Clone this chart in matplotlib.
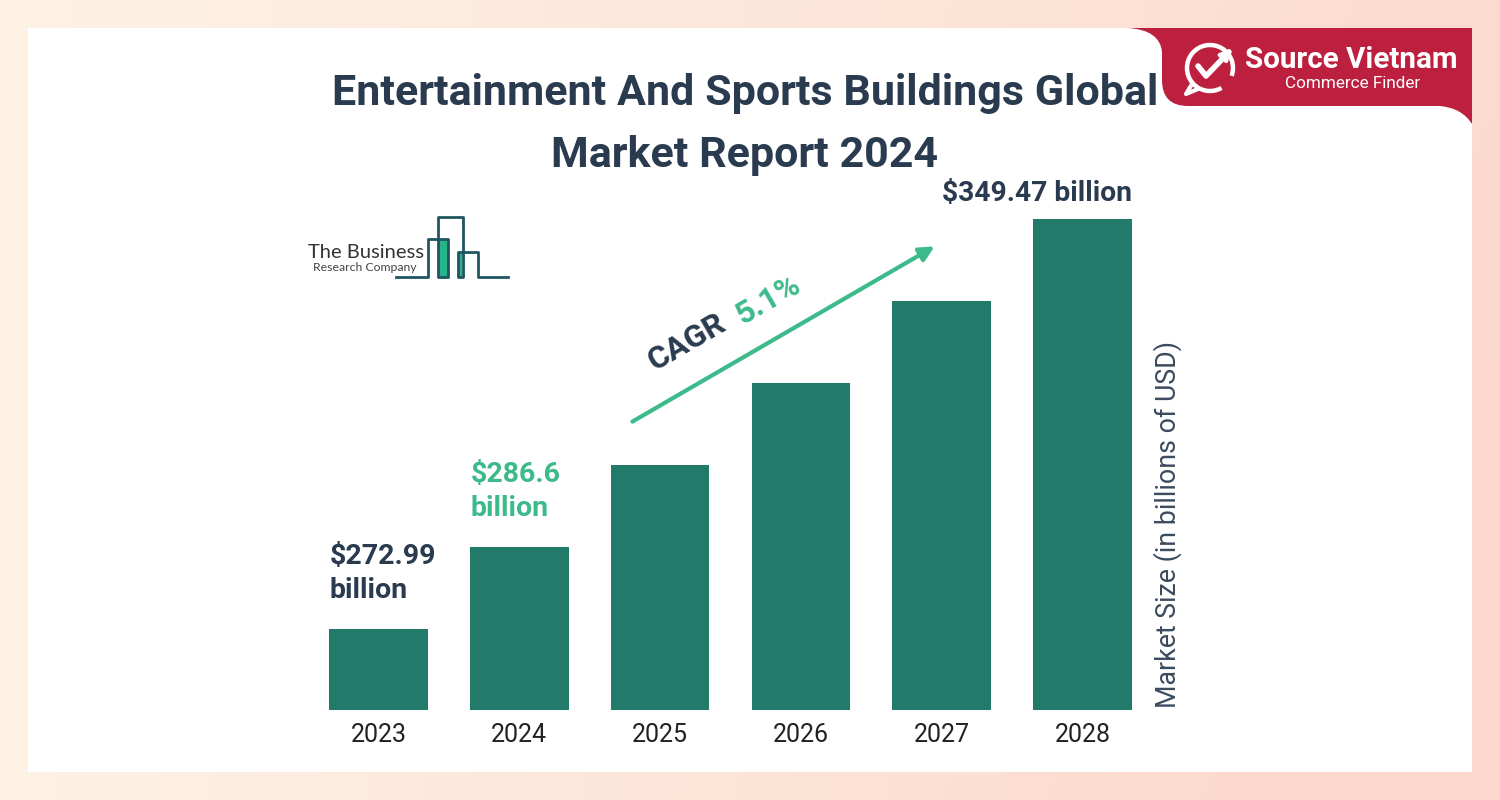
import numpy as np
import matplotlib
matplotlib.use("Agg")
import matplotlib.pyplot as plt
from matplotlib.patches import Rectangle, PathPatch, Arc, FancyArrowPatch
from matplotlib.path import Path

plt.rcParams["font.family"] = ["Roboto", "DejaVu Sans"]

# ---- data (bar heights as drawn in the infographic, label text) -------------
years = ["2023", "2024", "2025", "2026", "2027", "2028"]
bar_heights = [81, 163, 245, 327, 409, 491]
value_labels = {"2023": "$272.99\nbillion", "2024": "$286.6\nbillion",
                "2028": "$349.47 billion"}
cagr_text = "5.1%"

title_lines = ["Entertainment And Sports Buildings Global", "Market Report 2024"]
ylabel = "Market Size (in billions of USD)"

NAVY = "#2a3b4f"
BAR = "#227a6b"
GREEN = "#3dba8b"
RED = "#bd1f3e"

W, H = 1500, 800
fig = plt.figure(figsize=(15, 8), dpi=100)

# ---- background gradient + white card ----------------------------------------
bg = fig.add_axes([0, 0, 1, 1])
bg.set_xlim(0, W)
bg.set_ylim(H, 0)
bg.axis("off")
c_left = np.array([254, 242, 229]) / 255
c_right = np.array([251, 216, 203]) / 255
t = np.linspace(0, 1, 300)[None, :, None]
tv = np.linspace(0, 1, 160)[:, None, None]
mix = np.clip(t * 0.85 + tv * 0.25 * t, 0, 1)
grad = c_left * (1 - mix) + c_right * mix
bg.imshow(grad, extent=[0, W, H, 0], aspect="auto", zorder=0)
bg.add_patch(Rectangle((28, 28), 1444, 744, facecolor="white",
                       edgecolor="none", zorder=1))

# red badge top-right
verts = [(1128, 28), (1472, 28), (1472, 124),
         (1462, 108), (1440, 106),
         (1188, 106),
         (1162, 106), (1162, 80),
         (1162, 52),
         (1160, 30), (1128, 28), (1128, 28)]
codes = [Path.MOVETO, Path.LINETO, Path.LINETO,
         Path.CURVE3, Path.CURVE3,
         Path.LINETO,
         Path.CURVE3, Path.CURVE3,
         Path.LINETO,
         Path.CURVE3, Path.CURVE3, Path.CLOSEPOLY]
bg.add_patch(PathPatch(Path(verts, codes), facecolor=RED, edgecolor="none",
                       zorder=2))
# badge icon: ring + check + arrow
bg.add_patch(Arc((1210, 68), 46, 46, theta1=60, theta2=380, color="white",
                 lw=3.2, zorder=3))
bg.plot([1198, 1206, 1229], [66, 76, 52], color="white", lw=4,
        solid_capstyle="round", solid_joinstyle="round", zorder=4)
bg.add_patch(FancyArrowPatch((1222, 59), (1234, 46), arrowstyle="-|>",
                             mutation_scale=16, color="white", lw=3, zorder=4))
bg.plot([1192, 1186, 1198], [84, 94, 89], color="white", lw=3, zorder=4)
bg.text(1351, 60, "Source Vietnam", color="white", fontsize=21.3,
        fontweight="bold", ha="center", va="center", zorder=4)
bg.text(1353, 83, "Commerce Finder", color="white", fontsize=12.3,
        ha="center", va="center", zorder=4)

# title
bg.text(745, 105, title_lines[0], color=NAVY, fontsize=31,
        fontweight="bold", ha="center", va="baseline", zorder=3)
bg.text(745, 167, title_lines[1], color=NAVY, fontsize=31,
        fontweight="bold", ha="center", va="baseline", zorder=3)

# company logo
LOGO_DK = "#1f5660"
LOGO_GR = "#27b48a"
bg.add_patch(Rectangle((439, 240), 9, 37, facecolor=LOGO_GR, edgecolor="none",
                       zorder=3))
bg.add_patch(Rectangle((458, 252), 4, 25, facecolor=LOGO_GR, edgecolor="none",
                       zorder=3))
bg.plot([396, 428, 428, 448, 448, 438, 438, 463, 463, 458, 458, 478, 478, 508],
        [277, 277, 239, 239, 277, 277, 217, 217, 277, 277, 252, 252, 277, 277],
        color=LOGO_DK, lw=2, zorder=4)
bg.text(308, 258, "The Business", color="#333333", fontsize=14.5,
        family=["Lato", "DejaVu Sans"], va="baseline", zorder=3)
bg.text(313, 271, "Research Company", color="#444444", fontsize=8.8,
        family=["Lato", "DejaVu Sans"], va="baseline", zorder=3)

# CAGR arrow + text
bg.add_patch(FancyArrowPatch((630, 423), (937, 245), arrowstyle="-|>",
                             mutation_scale=22, color=GREEN, lw=3, zorder=3))
bg.text(687, 342, "CAGR", color=NAVY, fontsize=23, fontweight="bold",
        rotation=30, ha="center", va="center", rotation_mode="anchor",
        zorder=3)
bg.text(768, 300, cagr_text, color=GREEN, fontsize=23, fontweight="bold",
        rotation=30, ha="center", va="center", rotation_mode="anchor",
        zorder=3)

# y label on the right
bg.text(1168, 524, ylabel, color="#3b4b5e", fontsize=19.3, rotation=90,
        ha="center", va="center", zorder=3)

# ---- bar chart ----------------------------------------------------------------
ax = fig.add_axes([308 / W, 1 - 710 / H, 845 / W, 530 / H])
ax.patch.set_alpha(0)
x = np.arange(len(years))
ax.bar(x, bar_heights, width=0.70, color=BAR, zorder=2)
ax.set_xlim(-0.5, len(years) - 0.5)
ax.set_ylim(0, 530)
ax.set_xticks(x)
ax.set_xticklabels(years, fontsize=18, color="#222222")
ax.tick_params(axis="x", length=0, pad=9)
ax.set_yticks([])
for s in ax.spines.values():
    s.set_visible(False)

for i, yr in enumerate(years):
    if yr not in value_labels:
        continue
    h = bar_heights[i]
    if yr == "2028":
        ax.text(i + 0.35, h + 18, value_labels[yr], color=NAVY, fontsize=20.3,
                fontweight="bold", ha="right", va="baseline")
    else:
        col = GREEN if yr == "2024" else NAVY
        ax.text(i - 0.345, h + 31, value_labels[yr], color=col, fontsize=20.5,
                fontweight="bold", ha="left", va="baseline", linespacing=1.35)

fig.savefig("out.png", dpi=100)
